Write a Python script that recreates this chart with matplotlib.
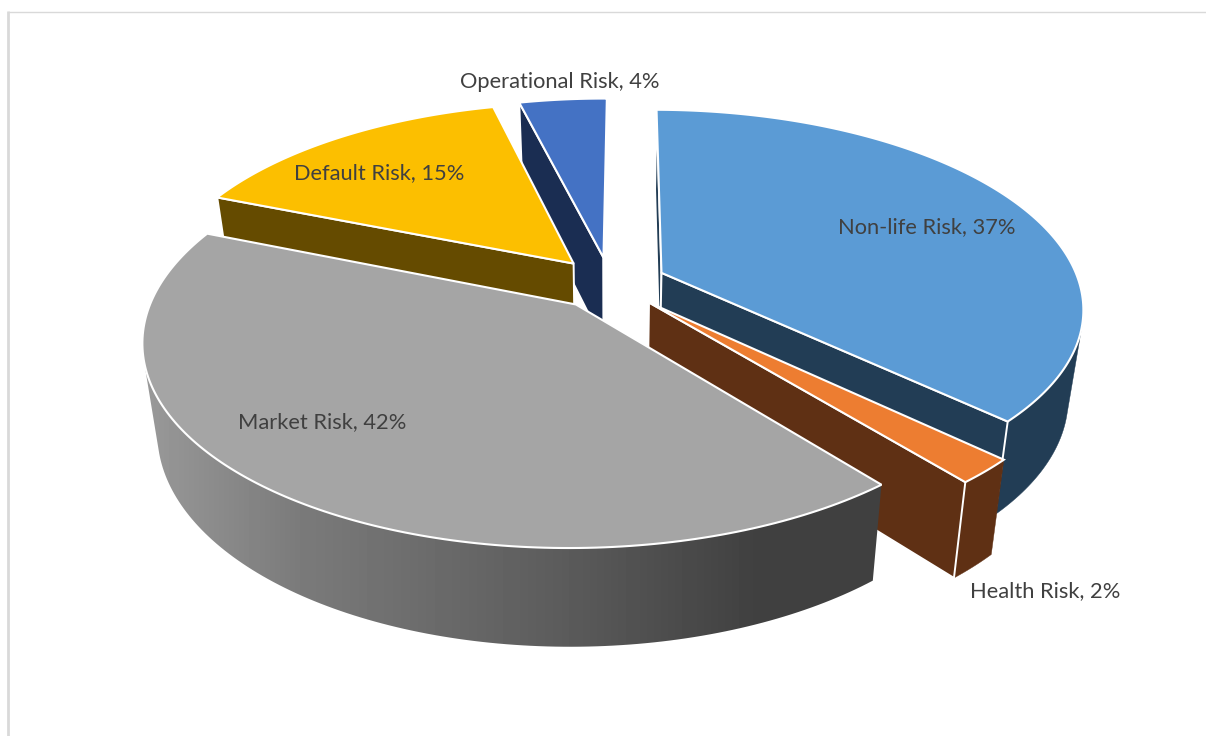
import numpy as np
import matplotlib
matplotlib.use("Agg")
import matplotlib.pyplot as plt
from matplotlib.patches import Polygon

categories = ["Non-life Risk", "Health Risk", "Market Risk", "Default Risk", "Operational Risk"]
shares = [37, 2, 42, 15, 4]
top_colors = ["#5b9bd5", "#ed7d31", "#a5a5a5", "#fcbf00", "#4472c4"]
side_colors = ["#223d55", "#5f3014", "#404040", "#654b00", "#1a2d52"]

# label anchors in pixels (left edge, vertical centre)
label_pos = {
    "Non-life Risk": (838, 227),
    "Health Risk": (970, 591),
    "Market Risk": (238, 422),
    "Default Risk": (294, 173),
    "Operational Risk": (460, 82),
}

# pie projection
CX, CY = 610, 283
RX, RY = 418, 194
PERSP = 0.17
EXPLODE = 0.135
DEPTH = 87
BOTTOM_SCALE = 0.968
ROTATION = np.radians(0.4)

# shading along the Market rim, by x pixel
grad_x = [145, 300, 560, 760, 875]
grad_v = [0.60, 0.48, 0.36, 0.25, 0.25]


def project(u, v, bottom=False):
    w = 1 + PERSP * v
    s = BOTTOM_SCALE if bottom else 1.0
    x = CX + s * RX * u / w
    y = CY - s * RY * v / w
    if bottom:
        y = y + DEPTH / w
    return x, y


def area(pts):
    pts = np.array(pts)
    x, y = pts[:, 0], pts[:, 1]
    return 0.5 * np.sum(x * np.roll(y, -1) - np.roll(x, -1) * y)


fig = plt.figure(figsize=(12.06, 7.36), dpi=100)
ax = fig.add_axes([0, 0, 1, 1])
ax.axis("off")

edges = np.cumsum([0] + shares) / sum(shares) * 2 * np.pi + ROTATION
slices = []
for i, name in enumerate(categories):
    slices.append((name, edges[i], edges[i + 1], top_colors[i], side_colors[i]))

# back slices first so the front ones cover them
draw_order = ["Operational Risk", "Default Risk", "Non-life Risk", "Health Risk", "Market Risk"]
slices.sort(key=lambda s: draw_order.index(s[0]))

for k, (name, a0, a1, top, side) in enumerate(slices):
    z = 2 + k * 5
    mid = (a0 + a1) / 2
    ex, ey = EXPLODE * np.sin(mid), EXPLODE * np.cos(mid)
    t = np.linspace(a0, a1, 160)
    u = np.sin(t) + ex
    v = np.cos(t) + ey

    xt, yt = project(u, v)
    xb, yb = project(u, v, bottom=True)
    ax_top = project(ex, ey)
    ax_bot = project(ex, ey, bottom=True)

    # outer rim, keeping only the part that faces the viewer
    keep = [j for j in range(len(t) - 1)
            if area([(xt[j], yt[j]), (xt[j + 1], yt[j + 1]), (xb[j + 1], yb[j + 1]), (xb[j], yb[j])]) < 0]
    if keep:
        idx = keep + [keep[-1] + 1]
        rim = list(zip(xt[idx], yt[idx])) + list(zip(xb[idx][::-1], yb[idx][::-1]))
        if name == "Market Risk":
            clip = Polygon(rim, closed=True, fc="none", ec="none", transform=ax.transData)
            ax.add_patch(clip)
            gx = np.arange(0, 1206)
            shade = np.interp(gx, grad_x, grad_v).reshape(1, -1)
            im = ax.imshow(shade, cmap="gray", vmin=0, vmax=1, extent=(0, 1206, 736, 0),
                           aspect="auto", zorder=z)
            im.set_clip_path(clip)
        else:
            ax.add_patch(Polygon(rim, closed=True, fc=side, ec=side, lw=0.3, zorder=z))

    # the two cut faces
    start_face = [ax_top, (xt[0], yt[0]), (xb[0], yb[0]), ax_bot]
    end_face = [ax_top, (xt[-1], yt[-1]), (xb[-1], yb[-1]), ax_bot]
    if area(start_face) < 0:
        ax.add_patch(Polygon(start_face, closed=True, fc=side, ec="white", lw=1.4, zorder=z + 1))
    if area(end_face) > 0:
        ax.add_patch(Polygon(end_face, closed=True, fc=side, ec="white", lw=1.4, zorder=z + 1))

    # top face
    outline = [ax_top] + list(zip(xt, yt))
    ax.add_patch(Polygon(outline, closed=True, fc=top, ec="white", lw=1.5, joinstyle="miter", zorder=z + 2))

ax.set_xlim(0, 1206)
ax.set_ylim(736, 0)

# chart area border
ax.plot([8, 8], [11, 736], color="#d9d9d9", lw=2, solid_capstyle="butt")
ax.plot([8, 1206], [11.5, 11.5], color="#d9d9d9", lw=1, solid_capstyle="butt")

for name, pct in zip(categories, shares):
    x, y = label_pos[name]
    ax.text(x, y, f"{name}, {pct}%", fontsize=15.75, family="Lato", color="#404040",
            ha="left", va="center", zorder=50)

fig.savefig("out.png", dpi=100)
